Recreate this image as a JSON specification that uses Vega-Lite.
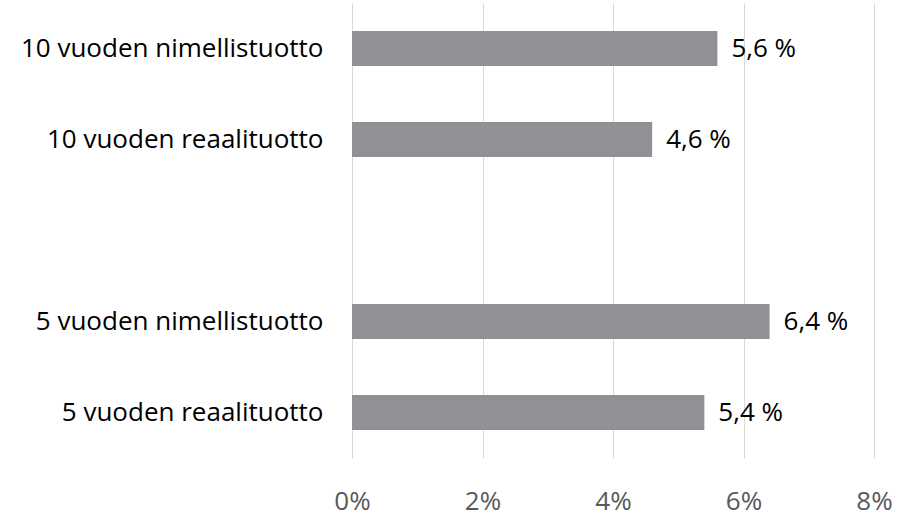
{
  "$schema": "https://vega.github.io/schema/vega-lite/v6.json",
  "width": 522,
  "height": 455,
  "autosize": {"type": "none"},
  "padding": {"left": 352, "top": 3, "right": 30, "bottom": 62},
  "background": "white",
  "config": {
    "view": {"stroke": null},
    "font": "Open Sans"
  },
  "data": {
    "values": [
      {"cat": "10 vuoden nimellistuotto", "value": 0.056, "label": "5,6 %"},
      {"cat": "10 vuoden reaalituotto", "value": 0.046, "label": "4,6 %"},
      {"cat": "5 vuoden nimellistuotto", "value": 0.064, "label": "6,4 %"},
      {"cat": "5 vuoden reaalituotto", "value": 0.054, "label": "5,4 %"}
    ]
  },
  "encoding": {
    "y": {
      "field": "cat",
      "type": "nominal",
      "title": null,
      "scale": {
        "domain": ["10 vuoden nimellistuotto", "10 vuoden reaalituotto", " ", "5 vuoden nimellistuotto", "5 vuoden reaalituotto"],
        "paddingInner": 0.615,
        "paddingOuter": 0.3075
      },
      "axis": {
        "domain": false,
        "ticks": false,
        "labelFontSize": 26,
        "labelColor": "#000000",
        "labelPadding": 29,
        "labelLimit": 400
      }
    },
    "x": {
      "field": "value",
      "type": "quantitative",
      "title": null,
      "scale": {"domain": [0, 0.08]},
      "axis": {
        "values": [0, 0.02, 0.04, 0.06, 0.08],
        "format": ".0%",
        "domain": false,
        "ticks": false,
        "labelFlush": false,
        "labelFontSize": 26,
        "labelColor": "#595959",
        "labelPadding": 30,
        "gridColor": "#d9d9d9",
        "gridWidth": 1
      }
    }
  },
  "layer": [
    {
      "mark": {"type": "bar", "color": "#919094"}
    },
    {
      "mark": {"type": "text", "align": "left", "baseline": "middle", "dx": 14, "fontSize": 26, "color": "#000000"},
      "encoding": {"text": {"field": "label"}}
    }
  ]
}
